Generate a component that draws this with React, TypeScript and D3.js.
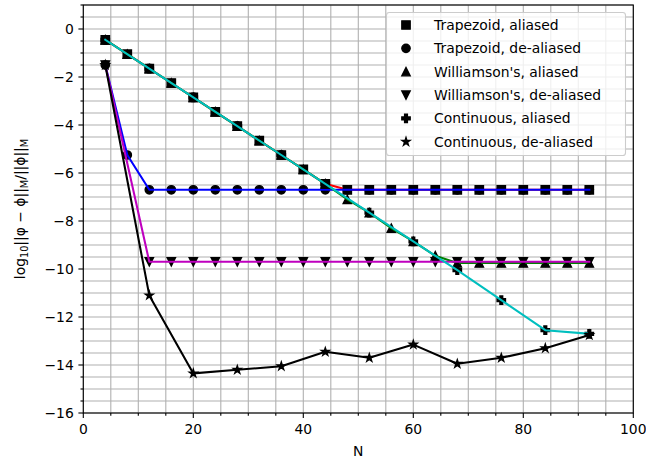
import React from "react";
import * as d3 from "d3";

// Resolution N for every-4 sampled series
const nEvery4 = [4, 8, 12, 16, 20, 24, 28, 32, 36, 40, 44, 48, 52, 56, 60, 64, 68, 72, 76, 80, 84, 88, 92];
const nWilliamsonDe = [4, 12, 16, 20, 24, 28, 32, 36, 40, 44, 48, 52, 56, 60, 64, 68, 72, 76, 80, 84, 88, 92];
const nContinuous = [4, 12, 20, 28, 36, 44, 52, 60, 68, 76, 84, 92];

const trapezoidAliased = [-0.45, -1.05, -1.65, -2.25, -2.85, -3.45, -4.05, -4.65, -5.25, -5.85, -6.45, -6.7, -6.7, -6.7, -6.7, -6.7, -6.7, -6.7, -6.7, -6.7, -6.7, -6.7, -6.7];
const trapezoidDealiased = [-1.5, -5.25, -6.7, -6.7, -6.7, -6.7, -6.7, -6.7, -6.7, -6.7, -6.7, -6.7, -6.7, -6.7, -6.7, -6.7, -6.7, -6.7, -6.7, -6.7, -6.7, -6.7, -6.7];
const williamsonAliased = [-0.45, -1.05, -1.65, -2.25, -2.85, -3.45, -4.05, -4.65, -5.25, -5.85, -6.45, -7.1, -7.65, -8.3, -8.85, -9.45, -9.75, -9.75, -9.75, -9.75, -9.75, -9.75, -9.75];
const williamsonDealiased = [-1.5, -9.7, -9.7, -9.7, -9.7, -9.7, -9.7, -9.7, -9.7, -9.7, -9.7, -9.7, -9.7, -9.7, -9.7, -9.7, -9.7, -9.7, -9.7, -9.7, -9.7, -9.7];
const continuousAliased = [-0.45, -1.65, -2.85, -4.05, -5.25, -6.45, -7.65, -8.85, -10.05, -11.3, -12.55, -12.7];
const continuousDealiased = [-1.5, -11.1, -14.35, -14.2, -14.05, -13.45, -13.7, -13.15, -13.95, -13.7, -13.3, -12.75];

const xTicks = [0, 20, 40, 60, 80, 100];
const yTicks = [0, -2, -4, -6, -8, -10, -12, -14, -16];

type MarkerKind = "square" | "circle" | "triUp" | "triDown" | "plus" | "star";

const series: { label: string; n: number[]; v: number[]; color: string; marker: MarkerKind }[] = [
  { label: "Trapezoid, aliased", n: nEvery4, v: trapezoidAliased, color: "#ff0000", marker: "square" },
  { label: "Trapezoid, de-aliased", n: nEvery4, v: trapezoidDealiased, color: "#0000ff", marker: "circle" },
  { label: "Williamson's, aliased", n: nEvery4, v: williamsonAliased, color: "#008000", marker: "triUp" },
  { label: "Williamson's, de-aliased", n: nWilliamsonDe, v: williamsonDealiased, color: "#bf00bf", marker: "triDown" },
  { label: "Continuous, aliased", n: nContinuous, v: continuousAliased, color: "#00bfbf", marker: "plus" },
  { label: "Continuous, de-aliased", n: nContinuous, v: continuousDealiased, color: "#000000", marker: "star" },
];

const W = 646;
const H = 463;
const left = 83.3;
const right = 633.3;
const top = 5;
const bottom = 413;
const FONT = "DejaVu Sans, sans-serif";
const MS = 8.33;

function markerPath(kind: MarkerKind, s: number): string {
  const h = s / 2;
  switch (kind) {
    case "square":
      return `M${-h},${-h}H${h}V${h}H${-h}Z`;
    case "circle":
      return `M${h},0A${h},${h} 0 1,1 ${-h},0A${h},${h} 0 1,1 ${h},0Z`;
    case "triUp":
      return `M0,${-h}L${-h},${h}L${h},${h}Z`;
    case "triDown":
      return `M0,${h}L${-h},${-h}L${h},${-h}Z`;
    case "plus": {
      const t = s / 6;
      return `M${-t},${-h}H${t}V${-t}H${h}V${t}H${t}V${h}H${-t}V${t}H${-h}V${-t}H${-t}Z`;
    }
    case "star": {
      const pts: string[] = [];
      const inner = h * 0.381966;
      for (let i = 0; i < 10; i++) {
        const r = i % 2 === 0 ? h : inner;
        const a = (Math.PI / 5) * i;
        pts.push(`${(r * Math.sin(a)).toFixed(3)},${(-r * Math.cos(a)).toFixed(3)}`);
      }
      return `M${pts.join("L")}Z`;
    }
  }
}

export default function App() {
  const x = d3.scaleLinear().domain([0, 100]).range([left, right]);
  const y = d3.scaleLinear().domain([-16, 1]).range([bottom, top]);

  const xGrid = d3.range(0, 100.001, 5);
  const yGrid = d3.range(-16, 1.001, 0.5);

  const line = d3
    .line<[number, number]>()
    .x((d) => x(d[0]))
    .y((d) => y(d[1]));

  const legendX = 386.5;
  const legendY = 12.5;
  const legendW = 239;
  const legendH = 143;

  return (
    <div style={{ position: "fixed", left: 0, top: 0 }}>
      <svg width={W} height={H} style={{ display: "block", background: "#fff" }}>
        <defs>
          <clipPath id="plotArea">
            <rect x={left} y={top} width={right - left} height={bottom - top} />
          </clipPath>
        </defs>
        {/* grid, major and minor */}
        <g stroke="#b0b0b0" strokeWidth={1.1}>
          {xGrid.map((g) => (
            <line key={"gx" + g} x1={x(g)} x2={x(g)} y1={top} y2={bottom} />
          ))}
          {yGrid.map((g) => (
            <line key={"gy" + g} x1={left} x2={right} y1={y(g)} y2={y(g)} />
          ))}
        </g>

        {/* markers then connecting line for each series */}
        <g clipPath="url(#plotArea)">
          {series.map((s) => {
            const pts = s.n.map((n, i) => [n, s.v[i]] as [number, number]);
            return (
              <g key={s.label}>
                {pts.map((p, i) => (
                  <path
                    key={i}
                    d={markerPath(s.marker, MS)}
                    transform={`translate(${x(p[0])},${y(p[1])})`}
                    fill="#000"
                    stroke="#000"
                    strokeWidth={1.39}
                    strokeLinejoin="miter"
                  />
                ))}
                <path d={line(pts) || ""} fill="none" stroke={s.color} strokeWidth={2.08} strokeLinejoin="round" strokeLinecap="square" />
              </g>
            );
          })}
        </g>

        {/* spines */}
        <rect x={left} y={top} width={right - left} height={bottom - top} fill="none" stroke="#000" strokeWidth={1.1} />

        {/* x ticks */}
        <g>
          {xGrid.map((g) => (
            <line key={"tx" + g} x1={x(g)} x2={x(g)} y1={bottom} y2={bottom + (g % 20 === 0 ? 4.9 : 2.8)} stroke="#000" strokeWidth={1.1} />
          ))}
          {xTicks.map((t) => (
            <text key={"lx" + t} x={x(t)} y={bottom + 20.5} textAnchor="middle" fontFamily={FONT} fontSize={13.9} fill="#000">
              {t}
            </text>
          ))}
        </g>

        {/* y ticks */}
        <g>
          {yGrid.map((g) => (
            <line key={"ty" + g} x1={left} x2={left - (g % 2 === 0 ? 4.9 : 2.8)} y1={y(g)} y2={y(g)} stroke="#000" strokeWidth={1.1} />
          ))}
          {yTicks.map((t) => (
            <text key={"ly" + t} x={left - 9.5} y={y(t) + 5} textAnchor="end" fontFamily={FONT} fontSize={13.9} fill="#000">
              {t === 0 ? "0" : "\u2212" + Math.abs(t)}
            </text>
          ))}
        </g>

        {/* axis titles */}
        <text x={(left + right) / 2} y={455.5} textAnchor="middle" fontFamily={FONT} fontSize={13.9} fill="#000">
          N
        </text>
        <text
          transform={`translate(24.5,${(top + bottom) / 2}) rotate(-90)`}
          textAnchor="middle"
          fontFamily={FONT}
          fontSize={13.9}
          fill="#000"
        >
          <tspan>log</tspan>
          <tspan fontSize={9.7} dy={3}>10</tspan>
          <tspan dy={-3}>||φ − ϕ||</tspan>
          <tspan fontSize={9.7} dy={3}>M</tspan>
          <tspan dy={-3}>/||ϕ||</tspan>
          <tspan fontSize={9.7} dy={3}>M</tspan>
        </text>

        {/* legend */}
        <rect x={legendX} y={legendY} width={legendW} height={legendH} rx={2.8} ry={2.8} fill="#fff" fillOpacity={0.8} stroke="#cccccc" strokeWidth={1.1} />
        {series.map((s, i) => {
          const cy = 25 + i * 23.35;
          return (
            <g key={"lg" + s.label}>
              <path d={markerPath(s.marker, MS)} transform={`translate(406,${cy})`} fill="#000" stroke="#000" strokeWidth={1.39} />
              <text x={434} y={cy + 5} fontFamily={FONT} fontSize={13.9} fill="#000">
                {s.label}
              </text>
            </g>
          );
        })}
      </svg>
    </div>
  );
}
